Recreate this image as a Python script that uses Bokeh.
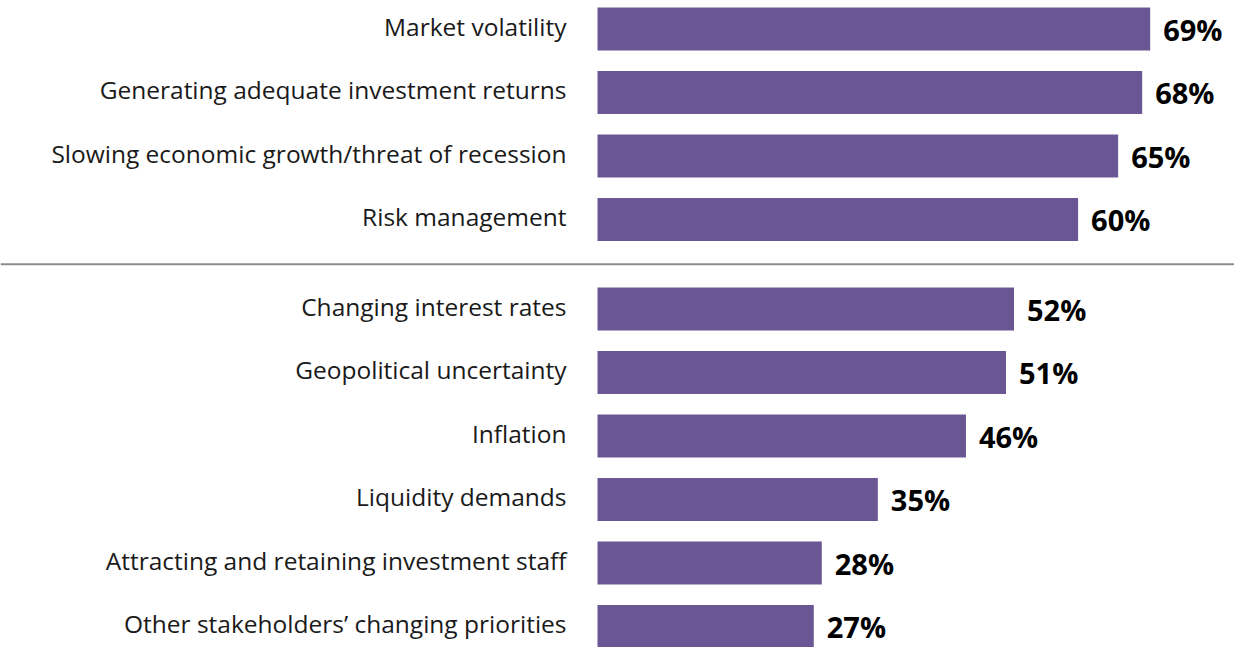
from bokeh.plotting import figure
from bokeh.models import ColumnDataSource, Range1d, Span
from bokeh.core.properties import value
from bokeh.embed import file_html
from bokeh.resources import INLINE

categories = [
    "Market volatility",
    "Generating adequate investment returns",
    "Slowing economic growth/threat of recession",
    "Risk management",
    "Changing interest rates",
    "Geopolitical uncertainty",
    "Inflation",
    "Liquidity demands",
    "Attracting and retaining investment staff",
    "Other stakeholders\u2019 changing priorities",
]
values = [69, 68, 65, 60, 52, 51, 46, 35, 28, 27]
value_labels = [f"{v}%" for v in values]

ROW_PX = 63.5
GAP = 26 / ROW_PX
ypos = [i + (GAP if i >= 4 else 0) for i in range(len(categories))]

src = ColumnDataSource(dict(cat=categories, val=values, lab=value_labels, y=ypos))

W, H = 1234, 647
px_per_unit = 8.01
x0_px = 597
top = -28.5 / ROW_PX
p = figure(width=W, height=H, output_backend="svg", toolbar_location=None,
           x_range=Range1d(-x0_px / px_per_unit, (W - x0_px) / px_per_unit),
           y_range=Range1d(top + H / ROW_PX, top),
           min_border=0)
p.axis.visible = False
p.grid.visible = False
p.outline_line_color = None
p.background_fill_color = "white"

p.hbar(y="y", left=0, right="val", height=43 / ROW_PX, source=src,
       fill_color="#6b5694", line_color=None)

p.text(x=0, y="y", text="cat", source=src, x_offset=-31, y_offset=-3,
       text_align="right", text_baseline="middle", text_font=value("Open Sans"),
       text_font_size="24.5px", text_color="#1a1a1a")

p.text(x="val", y="y", text="lab", source=src, x_offset=13, y_offset=0,
       text_align="left", text_baseline="middle", text_font=value("Open Sans"),
       text_font_style="bold", text_font_size="29px", text_color="#000000")

sep = Span(location=(3 + ypos[4]) / 2, dimension="width", line_color="#8c8c8c",
           line_width=2)
p.add_layout(sep)

open("out.html", "w").write(file_html(p, INLINE))
